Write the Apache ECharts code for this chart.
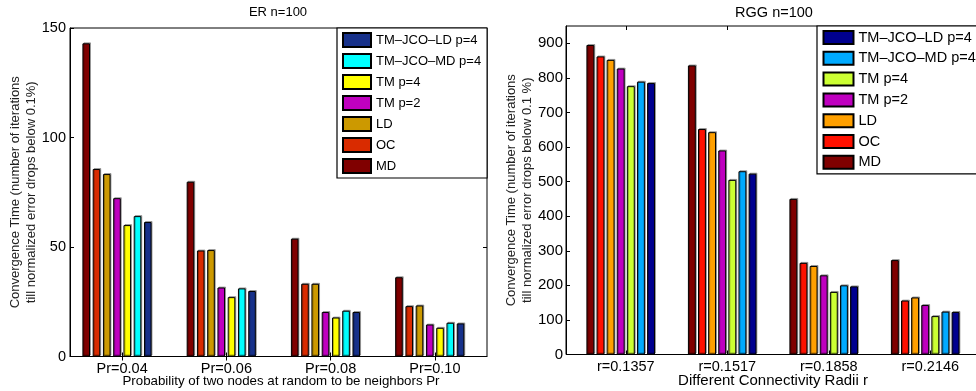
<!DOCTYPE html>
<html>
<head>
<meta charset="utf-8">
<script src="https://cdn.jsdelivr.net/npm/echarts@6/dist/echarts.min.js"></script>
<style>
html,body{margin:0;padding:0;background:#fff;}
#c{width:976px;height:391px;}
</style>
</head>
<body>
<div id="c"></div>
<script>
// ---------- data ----------
const categoriesER = ['Pr=0.04', 'Pr=0.06', 'Pr=0.08', 'Pr=0.10'];
const categoriesRGG = ['r=0.1357', 'r=0.1517', 'r=0.1858', 'r=0.2146'];
const seriesNames = ['MD', 'OC', 'LD', 'TM p=2', 'TM p=4', 'TM\u2013JCO\u2013MD p=4', 'TM\u2013JCO\u2013LD p=4'];
const legendOrder = ['TM\u2013JCO\u2013LD p=4', 'TM\u2013JCO\u2013MD p=4', 'TM p=4', 'TM p=2', 'LD', 'OC', 'MD'];

const erMD   = [143, 79.8, 53.8, 36.2];
const erOC   = [85.6, 48.4, 33.2, 23.0];
const erLD   = [83.3, 48.6, 33.2, 23.3];
const erTM2  = [72.3, 31.5, 20.3, 14.6];
const erTM4  = [60.0, 27.1, 17.8, 13.1];
const erJMD  = [64.1, 31.1, 20.9, 15.4];
const erJLD  = [61.4, 29.9, 20.3, 15.1];

const rggMD  = [895, 836, 450, 273];
const rggOC  = [862, 652, 265, 156];
const rggLD  = [852, 643, 256, 165];
const rggTM2 = [827, 590, 229, 143];
const rggTM4 = [776, 505, 181, 111];
const rggJMD = [789, 530, 200, 124];
const rggJLD = [785, 523, 197, 123];

const erTicks = [0, 50, 100, 150];
const rggTicks = [0, 100, 200, 300, 400, 500, 600, 700, 800, 900];

const erColors  = ['#800000', '#d92b00', '#cc9900', '#bf00bf', '#ffff00', '#00ffff', '#17318a'];
const rggColors = ['#7f0000', '#ff1100', '#ffa000', '#bf00bf', '#ccff33', '#00aaff', '#00008f'];

// ---------- chart ----------
const FONT = '"Liberation Sans", Arial, Helvetica, sans-serif';
const chart = echarts.init(document.getElementById('c'), null, {renderer: 'canvas'});

const erData = [erMD, erOC, erLD, erTM2, erTM4, erJMD, erJLD];
const rggData = [rggMD, rggOC, rggLD, rggTM2, rggTM4, rggJMD, rggJLD];
const RG = 'RGG|';

function barSeries(names, data, colors, xi, yi, bw, gap, prefix) {
  const out = names.map((n, i) => ({
    name: prefix + n,
    type: 'bar',
    xAxisIndex: xi, yAxisIndex: yi,
    data: data[i],
    barWidth: bw, barGap: gap,
    itemStyle: {color: colors[i], borderColor: '#000', borderWidth: 1,
      shadowColor: 'rgba(0,0,0,0.3)', shadowOffsetX: 1, shadowOffsetY: -1, shadowBlur: 0},
    emphasis: {disabled: true},
    animation: false
  }));
  // empty padding slot (keeps the bar groups left of the tick as in the original)
  out.push({name: prefix + '__pad', type: 'bar', xAxisIndex: xi, yAxisIndex: yi,
    data: [], barWidth: bw, barGap: gap, animation: false});
  return out;
}

const axisLbl = {color: '#000', fontFamily: FONT, fontSize: 14.5};

const option = {
  backgroundColor: '#fff',
  animation: false,
  title: [
    {text: 'ER n=100', left: 278, top: 6, textAlign: 'center', padding: 0,
     textStyle: {fontFamily: FONT, fontSize: 13, fontWeight: 'normal', color: '#000'}},
    {text: 'RGG n=100', left: 774, top: 5, textAlign: 'center', padding: 0,
     textStyle: {fontFamily: FONT, fontSize: 14.5, fontWeight: 'normal', color: '#000'}}
  ],
  grid: [
    {left: 70, top: 28, width: 417, height: 328.5, show: true, borderColor: '#000', borderWidth: 1,
     backgroundColor: 'transparent', containLabel: false, outerBoundsMode: 'none'},
    {left: 575, top: 26, width: 406, height: 328.5, show: false, containLabel: false, outerBoundsMode: 'none'},
    {left: 566, top: 26, width: 430, height: 328.5, show: true, borderColor: '#000', borderWidth: 1,
     backgroundColor: 'transparent', containLabel: false, outerBoundsMode: 'none'}
  ],
  legend: [
    {data: legendOrder, orient: 'vertical', left: 337, top: 28,
     padding: [4, 6, 4, 5], itemWidth: 28, itemHeight: 14, itemGap: 5,
     backgroundColor: '#fff', borderColor: '#000', borderWidth: 1.2,
     textStyle: {fontFamily: FONT, fontSize: 13, color: '#000'},
     selectedMode: false, icon: 'rect'},
    {data: legendOrder.map(n => RG + n), orient: 'vertical', left: 817, top: 26,
     padding: [4, 10, 4, 5.5], itemWidth: 30, itemHeight: 13, itemGap: 5.8,
     backgroundColor: '#fff', borderColor: '#000', borderWidth: 1.2,
     formatter: n => n.replace(RG, ''),
     textStyle: {fontFamily: FONT, fontSize: 14.5, color: '#000'},
     selectedMode: false, icon: 'rect'}
  ],
  xAxis: [
    {gridIndex: 0, type: 'category', data: categoriesER, position: 'bottom',
     axisLine: {show: true, lineStyle: {color: '#000', width: 1}},
     axisTick: {show: true, inside: true, alignWithLabel: true, length: 4, lineStyle: {color: '#000'}},
     axisLabel: Object.assign({margin: 5}, axisLbl),
     name: 'Probability of two nodes at random to be neighbors Pr', nameLocation: 'middle', nameGap: 18,
     nameMoveOverlap: false,
     nameTextStyle: {fontFamily: FONT, fontSize: 13.3, color: '#000', padding: [0, 0, 0, 5]}},
    {gridIndex: 0, type: 'category', data: categoriesER, position: 'top',
     axisLine: {show: false}, axisLabel: {show: false},
     axisTick: {show: true, inside: true, alignWithLabel: true, length: 4, lineStyle: {color: '#000'}}},
    {gridIndex: 1, type: 'category', data: categoriesRGG, position: 'bottom',
     axisLine: {show: true, lineStyle: {color: '#000', width: 1}},
     axisTick: {show: true, inside: true, alignWithLabel: true, length: 4, lineStyle: {color: '#000'}},
     axisLabel: Object.assign({margin: 5}, axisLbl),
     name: 'Different Connectivity Radii r', nameLocation: 'middle', nameGap: 19,
     nameMoveOverlap: false,
     nameTextStyle: {fontFamily: FONT, fontSize: 15, color: '#000', padding: [0, 10, 0, 0]}},
    {gridIndex: 1, type: 'category', data: categoriesRGG, position: 'top',
     axisLine: {show: false}, axisLabel: {show: false},
     axisTick: {show: true, inside: true, alignWithLabel: true, length: 4, lineStyle: {color: '#000'}}},
    {gridIndex: 2, type: 'value', show: false}
  ],
  yAxis: [
    {gridIndex: 0, type: 'value', min: erTicks[0], max: erTicks[erTicks.length - 1], interval: erTicks[1] - erTicks[0],
     splitLine: {show: false},
     axisLine: {show: true, lineStyle: {color: '#000', width: 1}},
     axisTick: {show: true, inside: true, length: 4, lineStyle: {color: '#000'}},
     axisLabel: Object.assign({margin: 4}, axisLbl),
     name: 'Convergence Time (number of iterations\ntill normalized error drops below 0.1%)',
     nameLocation: 'middle', nameGap: 31, nameRotate: 90, nameMoveOverlap: false,
     nameTextStyle: {fontFamily: FONT, fontSize: 13, color: '#222', lineHeight: 16}},
    {gridIndex: 0, type: 'value', position: 'right', min: erTicks[0], max: erTicks[erTicks.length - 1], interval: erTicks[1] - erTicks[0],
     splitLine: {show: false}, axisLine: {show: false}, axisLabel: {show: false},
     axisTick: {show: true, inside: true, length: 4, lineStyle: {color: '#000'}}},
    {gridIndex: 1, type: 'value', min: rggTicks[0], max: 950, interval: rggTicks[1] - rggTicks[0],
     offset: 9, splitLine: {show: false},
     axisLine: {show: true, lineStyle: {color: '#000', width: 1}},
     axisTick: {show: true, inside: true, length: 4, lineStyle: {color: '#000'}},
     axisLabel: Object.assign({margin: 3, showMaxLabel: false}, axisLbl, {fontSize: 15}),
     name: 'Convergence Time (number of iterations\ntill normalized error drops below 0.1 %)',
     nameLocation: 'middle', nameGap: 31, nameRotate: 90, nameMoveOverlap: false,
     nameTextStyle: {fontFamily: FONT, fontSize: 13, color: '#222', lineHeight: 16}},
    {gridIndex: 2, type: 'value', show: false}
  ],
  series: [].concat(
    barSeries(seriesNames, erData, erColors, 0, 0, 7.6, '35%', ''),
    barSeries(seriesNames, rggData, rggColors, 2, 2, 7.9, '28%', RG)
  )
};
chart.setOption(option);
</script>
</body>
</html>
